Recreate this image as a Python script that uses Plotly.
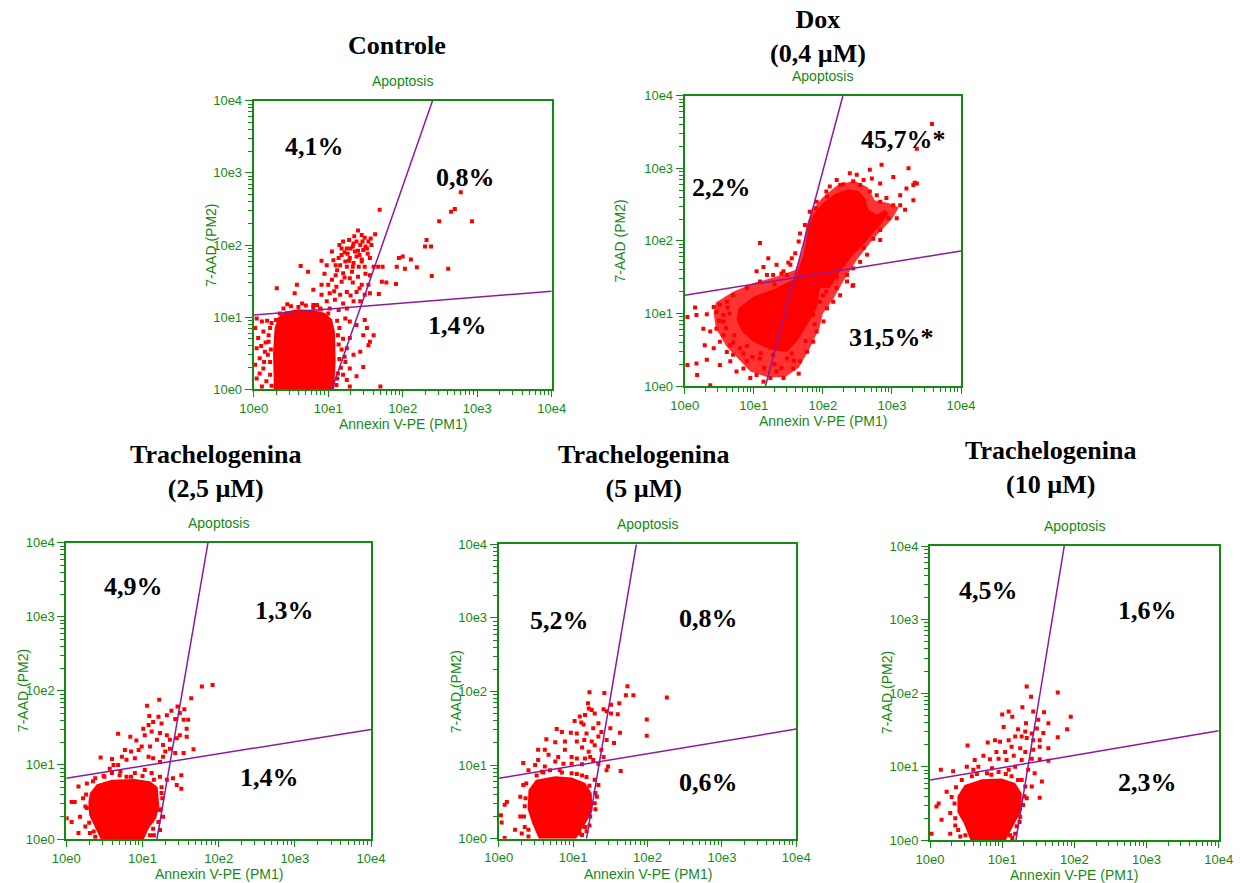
import plotly.graph_objects as go

# ------------------------------------------------------------------
# DATA  (all coordinates in decades = log10 of fluorescence intensity)
# ------------------------------------------------------------------
DECADES = [1, 10, 100, 1000, 10000]
TICK_TEXT = ["10e0", "10e1", "10e2", "10e3", "10e4"]
X_TITLE = "Annexin V-PE (PM1)"
Y_TITLE = "7-AAD (PM2)"
PLOT_TITLE = "Apoptosis"

# ---- Controle ----
ctrl_title = "Controle"
ctrl_pct = ["4,1%", "0,8%", "1,4%"]
ctrl_gate_v = [1.05, 2.40]   # x (decades) of the steep gate at y=10e0 and y=10e4
ctrl_gate_h = [1.03, 1.36]   # y (decades) of the flat gate at x=10e0 and x=10e4
ctrl_core = [(0.27, 0.0), (0.26, 0.5), (0.28, 0.85), (0.33, 1.0), (0.42, 1.08), (0.6, 1.11),
             (0.8, 1.10), (0.95, 1.06), (1.05, 0.97), (1.09, 0.8), (1.10, 0.4), (1.08, 0.0)]
ctrl_pts = [
    (1.69, 2.49), (2.65, 2.46), (2.70, 2.50), (2.49, 2.33), (2.93, 2.33), (2.32, 2.07), (2.30, 1.98),
    (2.38, 1.98), (2.00, 1.84), (1.95, 1.82), (2.11, 1.80), (1.92, 1.70), (2.19, 1.69), (2.03, 1.67),
    (2.61, 1.67), (2.39, 1.57), (1.73, 1.70), (1.72, 1.49), (1.78, 1.48), (1.91, 1.46), (1.68, 1.32),
    (3.10, 2.89), (2.78, 2.73),
    (1.40, 2.20), (1.49, 2.10), (1.57, 2.09), (1.54, 2.05), (1.43, 2.00), (1.34, 2.02), (1.28, 2.07),
    (1.20, 2.05), (1.15, 2.00), (1.25, 1.95), (1.36, 1.91), (1.47, 1.93), (1.53, 1.88), (1.58, 2.00),
    (1.63, 2.15), (1.38, 1.84), (1.29, 1.82), (1.23, 1.77), (1.14, 1.82), (1.05, 1.91), (1.07, 1.79),
    (1.16, 1.72), (1.25, 1.70), (1.34, 1.75), (1.45, 1.77), (1.49, 1.70), (1.32, 1.63), (1.20, 1.61),
    (1.12, 1.65), (0.98, 1.72), (0.91, 1.78), (0.63, 1.71), (0.73, 1.63), (0.58, 1.45), (0.31, 1.40),
    (0.80, 1.38), (0.91, 1.45), (1.05, 1.52), (1.18, 1.49), (1.29, 1.54), (1.40, 1.56), (1.11, 1.42),
    (1.02, 1.33), (1.16, 1.31), (1.25, 1.35), (1.38, 1.35), (1.49, 1.31), (0.91, 1.31), (0.98, 1.22),
    (1.09, 1.24), (1.20, 1.19), (1.34, 1.22), (1.56, 1.33), (1.54, 1.45), (1.56, 1.58), (1.61, 1.70),
    (1.67, 1.70), (0.55, 1.33), (0.80, 1.17), (0.89, 1.12), (1.02, 1.12), (1.14, 1.10), (1.25, 1.12),
    (1.43, 1.22), (1.30, 1.95), (1.42, 1.86), (1.50, 1.98), (1.38, 2.05), (1.26, 1.88), (1.45, 1.80),
    (1.33, 1.70), (1.22, 1.90), (1.10, 1.58), (1.22, 1.55), (1.33, 1.48), (1.45, 1.45), (1.00, 1.45),
    (1.08, 1.36), (1.30, 1.30), (1.42, 1.40), (1.50, 1.60), (0.95, 1.60),
    (1.18, 1.95), (1.33, 1.98), (1.46, 2.05), (1.52, 1.95), (1.40, 1.92), (1.28, 1.78), (1.41, 1.70),
    (1.18, 1.86), (1.35, 2.12), (1.45, 2.14), (1.56, 1.82), (1.10, 1.72),
    (0.04, 0.98), (0.11, 0.94), (0.02, 0.85), (0.13, 0.80), (0.06, 0.71), (0.20, 0.66), (0.04, 0.57),
    (0.15, 0.52), (0.08, 0.43), (0.02, 0.34), (0.13, 0.29), (0.04, 0.15), (0.17, 0.11), (0.11, 0.04),
    (0.22, 0.85), (0.22, 0.38), (0.22, 0.20), (0.18, 0.95), (0.10, 0.60), (0.19, 0.48), (0.08, 0.22),
    (0.20, 0.75), (0.14, 0.38), (0.24, 0.92), (0.23, 0.55), (0.24, 0.05), (0.16, 0.65),
    (0.35, 1.05), (0.40, 1.12), (0.50, 1.15), (0.60, 1.14), (0.70, 1.16), (0.80, 1.13), (0.90, 1.11),
    (1.00, 1.05), (0.30, 0.96), (0.45, 1.18), (0.65, 1.19), (0.85, 1.17),
    (1.23, 0.98), (1.29, 0.94), (1.38, 0.89), (1.49, 0.96), (1.52, 0.85), (1.47, 0.75), (1.54, 0.61),
    (1.61, 0.75), (1.29, 0.71), (1.25, 0.57), (1.34, 0.48), (1.43, 0.52), (1.23, 0.38), (1.29, 0.29),
    (1.47, 0.31), (1.38, 0.18), (1.25, 0.13), (1.29, 0.04), (1.70, 0.04), (1.20, 0.20), (1.56, 0.66),
    (1.15, 0.85), (1.20, 0.70), (1.18, 0.55), (1.17, 0.30), (1.12, 0.15), (1.22, 0.45),
    (1.12, 0.95), (1.13, 0.75), (1.14, 0.62), (1.15, 0.42), (1.13, 0.22), (1.11, 0.06),
]

# ---- Dox (0,4 µM) ----
dox_title = "Dox<br>(0,4 µM)"
dox_pct = ["2,2%", "45,7%*", "31,5%*"]
dox_gate_v = [1.17, 2.29]
dox_gate_h = [1.25, 1.86]
dox_core_low = [(0.78, 1.07), (0.99, 1.23), (1.33, 1.35), (1.60, 1.48), (1.81, 1.58), (1.96, 1.35),
                (1.91, 1.07), (1.77, 0.84), (1.62, 0.61), (1.48, 0.47), (1.24, 0.50), (0.99, 0.61),
                (0.83, 0.75), (0.75, 0.91)]
dox_core_band = [(1.60, 1.48), (1.72, 1.81), (1.79, 2.17), (1.86, 2.36), (2.01, 2.53), (2.18, 2.65),
                 (2.37, 2.71), (2.51, 2.69), (2.61, 2.59), (2.66, 2.43), (2.78, 2.36), (2.90, 2.43),
                 (2.95, 2.38), (2.83, 2.22), (2.64, 2.01), (2.44, 1.81), (2.25, 1.58), (2.10, 1.35),
                 (1.96, 1.35), (1.81, 1.58)]
dox_halo = [(0.45, 1.15), (0.70, 1.30), (1.00, 1.42), (1.30, 1.50), (1.60, 1.60), (1.70, 1.85),
            (1.76, 2.20), (1.84, 2.42), (2.00, 2.60), (2.20, 2.76), (2.45, 2.83), (2.65, 2.74),
            (2.75, 2.56), (2.95, 2.52), (3.10, 2.46), (3.00, 2.30), (2.75, 2.05), (2.50, 1.75),
            (2.30, 1.45), (2.15, 1.20), (2.00, 1.00), (1.95, 0.80), (1.80, 0.50), (1.65, 0.25),
            (1.45, 0.12), (1.20, 0.12), (0.95, 0.20), (0.80, 0.35), (0.60, 0.55), (0.45, 0.80),
            (0.42, 1.00)]
dox_pts = [
    (0.15, 1.08), (0.17, 0.98), (0.32, 0.99), (0.42, 1.09), (0.46, 1.02), (0.51, 1.12), (0.56, 0.98),
    (0.61, 1.16), (0.27, 0.79), (0.37, 0.75), (0.46, 0.79), (0.56, 0.70), (0.29, 0.56), (0.42, 0.52),
    (0.51, 0.61), (0.61, 0.47), (0.17, 0.31), (0.32, 0.36), (0.51, 0.29), (0.66, 0.34), (0.75, 0.20),
    (0.85, 0.24), (0.95, 0.11), (1.04, 0.15), (1.14, 0.06), (1.24, 0.11), (1.33, 0.20), (1.43, 0.11),
    (1.57, 0.24), (1.65, 0.17), (0.70, 0.43), (0.90, 0.34), (1.09, 0.38), (1.28, 0.43), (1.48, 0.38),
    (0.66, 0.56), (0.56, 0.89), (0.70, 1.25), (0.90, 1.35), (1.09, 1.44), (1.19, 1.53), (1.09, 1.97),
    (1.21, 1.76), (1.33, 1.67), (1.43, 1.58), (1.53, 1.67), (1.14, 1.64), (1.28, 1.53), (1.04, 1.58),
    (1.48, 1.53), (1.55, 1.76), (1.65, 1.99), (1.74, 2.22), (1.81, 2.40), (1.91, 2.54), (2.06, 2.61),
    (1.67, 2.10), (1.60, 1.83),
    (2.20, 1.35), (2.25, 1.25), (2.35, 1.44), (2.44, 1.39), (2.15, 1.16), (2.06, 1.07), (2.01, 0.89),
    (1.91, 0.75), (1.86, 0.61), (1.77, 0.47), (1.67, 0.34), (1.86, 0.98), (1.96, 1.16), (2.44, 1.62),
    (2.54, 1.71), (2.64, 1.81), (2.35, 1.53), (2.59, 1.90), (2.73, 2.03), (2.83, 2.15), (2.43, 1.38),
    (2.68, 2.68), (2.78, 2.63), (2.83, 2.54), (2.92, 2.59), (3.02, 2.49), (3.12, 2.63), (3.21, 2.72),
    (3.31, 2.77), (3.36, 2.79), (3.24, 3.00), (2.85, 3.05), (2.68, 2.98), (3.02, 2.88), (2.83, 2.79),
    (3.12, 2.49), (2.83, 2.01), (2.95, 2.31), (3.07, 2.31), (3.19, 2.43), (3.31, 2.56),
    (2.39, 2.93), (2.49, 2.91), (2.59, 2.84), (2.71, 2.86), (2.25, 2.77), (2.10, 2.75), (2.20, 2.84),
    (2.44, 2.82), (2.54, 2.77),
    (3.58, 3.61), (3.36, 3.27), (3.33, 2.80), (0.04, 0.95), (0.04, 0.29), (0.18, 0.15), (0.37, 0.01),
    (1.20, 0.90), (1.00, 0.85), (0.90, 0.55), (1.30, 0.70), (1.50, 0.60), (1.70, 0.95), (1.75, 1.20),
    (0.70, 0.60), (0.85, 0.45), (1.10, 0.45), (1.30, 0.30), (1.55, 0.45), (0.65, 1.00), (0.60, 0.80),
    (1.70, 1.30), (2.00, 1.25), (1.40, 1.55), (1.50, 1.70), (1.30, 1.40),
    (0.50, 0.90), (0.62, 1.08), (0.72, 0.70), (0.80, 0.52), (0.98, 0.40), (1.15, 0.25), (1.40, 0.25),
    (1.58, 0.35), (1.75, 0.62), (1.88, 0.85), (2.05, 1.30), (2.20, 1.50), (2.30, 1.68), (2.45, 1.92),
    (2.60, 2.10), (1.90, 2.45), (2.05, 2.68), (2.30, 2.78), (1.82, 2.05), (1.76, 1.70),
]

# ---- Trachelogenina 2,5 µM ----
t25_title = "Trachelogenina<br>(2,5 µM)"
t25_pct = ["4,9%", "1,3%", "1,4%"]
t25_gate_v = [1.19, 1.86]
t25_gate_h = [0.82, 1.48]
t25_core = [(0.31, 0.62), (0.40, 0.74), (0.60, 0.80), (0.90, 0.81), (1.10, 0.78), (1.20, 0.70),
            (1.22, 0.45), (1.18, 0.28), (1.08, 0.14), (1.02, 0.0), (0.45, 0.0), (0.38, 0.15),
            (0.30, 0.32), (0.29, 0.50)]
t25_pts = [
    (1.78, 2.06), (1.92, 2.08), (1.64, 1.90), (1.22, 1.88), (1.06, 1.80), (1.46, 1.79), (1.55, 1.75),
    (1.38, 1.73), (1.49, 1.70), (1.32, 1.67), (1.21, 1.65), (1.09, 1.66), (1.14, 1.58), (1.25, 1.56),
    (1.43, 1.62), (1.54, 1.61), (1.60, 1.61), (1.08, 1.54), (1.01, 1.49), (1.12, 1.45), (1.23, 1.43),
    (1.32, 1.40), (1.36, 1.34), (1.45, 1.36), (1.58, 1.38), (0.92, 1.33), (0.84, 1.38), (0.68, 1.42),
    (1.03, 1.40), (1.19, 1.34), (1.27, 1.27), (1.10, 1.25), (0.99, 1.25), (0.95, 1.20), (0.85, 1.18),
    (0.77, 1.20), (0.73, 1.11), (1.08, 1.11), (1.14, 1.09), (1.27, 1.11), (1.43, 1.16), (1.54, 1.16),
    (1.67, 1.21), (0.45, 1.10), (0.60, 1.08), (0.68, 1.00), (0.79, 1.07), (0.90, 1.09), (0.62, 1.00),
    (0.57, 0.95), (1.23, 1.04), (1.30, 1.18), (1.36, 1.22), (1.49, 1.40), (1.58, 1.49),
    (0.07, 0.50), (0.11, 0.50), (0.16, 0.71), (0.22, 0.55), (0.25, 0.44), (0.005, 0.28), (0.07, 0.23),
    (0.18, 0.30), (0.25, 0.17), (0.16, 0.08), (0.31, 0.08), (0.38, 0.03), (0.27, 0.75), (0.38, 0.82),
    (0.49, 0.85), (0.60, 0.89), (0.71, 0.91), (0.79, 0.84), (0.90, 0.89), (1.03, 0.93), (1.12, 0.89),
    (1.23, 0.84), (1.32, 0.80), (1.40, 0.82), (1.51, 0.86), (1.51, 0.68), (1.45, 0.73), (1.25, 0.62),
    (1.23, 0.39), (1.27, 0.30), (1.14, 0.14), (1.10, 0.05), (1.23, 0.12), (1.21, 0.23),
    (0.35, 0.78), (0.50, 0.84), (0.70, 0.86), (0.85, 0.84), (1.00, 0.85), (1.15, 0.80), (1.25, 0.70),
    (1.26, 0.55), (1.24, 0.40), (0.26, 0.60), (0.27, 0.42), (0.30, 0.22), (0.36, 0.10), (1.12, 0.25),
    (1.15, 0.05),
]

# ---- Trachelogenina 5 µM ----
t5_title = "Trachelogenina<br>(5 µM)"
t5_pct = ["5,2%", "0,8%", "0,6%"]
t5_gate_v = [1.18, 1.85]
t5_gate_h = [0.82, 1.49]
t5_core = [(0.40, 0.66), (0.50, 0.80), (0.76, 0.85), (0.98, 0.83), (1.16, 0.76), (1.25, 0.62),
           (1.26, 0.39), (1.18, 0.23), (1.04, 0.0), (0.54, 0.0), (0.45, 0.21), (0.39, 0.40)]
t5_pts = [
    (1.73, 2.07), (1.22, 1.99), (1.42, 1.98), (1.71, 1.95), (1.81, 1.95), (2.26, 1.92), (1.20, 1.84),
    (1.62, 1.84), (1.51, 1.82), (1.21, 1.77), (1.25, 1.75), (1.41, 1.76), (1.45, 1.73), (1.29, 1.70),
    (1.16, 1.68), (1.09, 1.66), (1.02, 1.60), (1.11, 1.58), (1.51, 1.70), (1.60, 1.69), (1.99, 1.62),
    (1.14, 1.55), (1.34, 1.57), (1.27, 1.50), (1.50, 1.50), (1.63, 1.44), (1.38, 1.45), (0.78, 1.49),
    (0.85, 1.45), (0.97, 1.44), (1.05, 1.43), (1.18, 1.43), (1.34, 1.39), (1.45, 1.34), (1.55, 1.30),
    (1.99, 1.40), (0.64, 1.35), (0.76, 1.31), (0.89, 1.32), (1.05, 1.32), (1.15, 1.34), (1.25, 1.32),
    (0.53, 1.21), (0.62, 1.21), (0.89, 1.21), (1.12, 1.24), (1.21, 1.18), (1.29, 1.27), (1.38, 1.21),
    (0.67, 1.14), (0.80, 1.11), (0.98, 1.11), (1.05, 1.09), (1.16, 1.09), (1.23, 1.11), (0.53, 1.07),
    (0.76, 1.05), (0.87, 1.02), (0.98, 1.02), (1.12, 1.01), (1.27, 1.07), (1.47, 0.98), (1.45, 0.93),
    (1.64, 0.92), (0.33, 1.03), (0.49, 1.00), (0.62, 0.98), (0.69, 0.93), (0.82, 0.93), (0.58, 0.91),
    (1.34, 1.02), (1.41, 1.11),
    (0.11, 0.50), (0.08, 0.46), (0.03, 0.32), (0.04, 0.22), (0.29, 0.57), (0.33, 0.73), (0.35, 0.44),
    (0.29, 0.30), (0.35, 0.16), (0.31, 0.07), (0.22, 0.12), (0.40, 0.93), (0.51, 0.86), (0.98, 0.89),
    (1.12, 0.86), (1.18, 0.84), (1.29, 0.80), (1.34, 0.73), (1.32, 0.57), (1.29, 0.48), (1.23, 0.30),
    (1.16, 0.16), (1.18, 0.10), (1.09, 0.07), (0.08, 0.01), (0.40, 0.03),
    (0.37, 0.75), (0.60, 0.90), (0.85, 0.90), (1.05, 0.88), (1.22, 0.72), (1.30, 0.62), (1.30, 0.40),
    (0.36, 0.55), (0.34, 0.30), (0.40, 0.12), (1.12, 0.05), (1.22, 0.18),
]

# ---- Trachelogenina 10 µM ----
t10_title = "Trachelogenina<br>(10 µM)"
t10_pct = ["4,5%", "1,6%", "2,3%"]
t10_gate_v = [1.19, 1.86]
t10_gate_h = [0.82, 1.49]
t10_core = [(0.38, 0.60), (0.48, 0.75), (0.72, 0.83), (0.99, 0.84), (1.18, 0.78), (1.27, 0.64),
            (1.27, 0.41), (1.18, 0.25), (1.05, 0.0), (0.56, 0.0), (0.47, 0.23), (0.38, 0.38)]
t10_pts = [
    (1.34, 2.09), (1.40, 1.95), (1.77, 2.01), (1.28, 1.81), (1.09, 1.75), (1.43, 1.75), (1.58, 1.74),
    (1.00, 1.71), (1.14, 1.68), (1.50, 1.64), (1.64, 1.59), (1.33, 1.59), (1.95, 1.68), (1.90, 1.51),
    (1.02, 1.54), (1.22, 1.51), (1.32, 1.48), (1.41, 1.45), (1.48, 1.52), (1.57, 1.46), (1.77, 1.40),
    (1.18, 1.41), (1.27, 1.41), (1.34, 1.39), (1.43, 1.36), (1.52, 1.36), (0.90, 1.36), (0.97, 1.34),
    (1.09, 1.36), (0.80, 1.33), (0.52, 1.29), (1.13, 1.27), (1.25, 1.25), (1.32, 1.20), (1.43, 1.23),
    (1.52, 1.27), (1.64, 1.25), (1.04, 1.20), (0.92, 1.20), (0.74, 1.15), (0.62, 1.09), (0.83, 1.10),
    (0.95, 1.11), (1.06, 1.09), (1.16, 1.15), (1.27, 1.09), (1.41, 1.11), (1.52, 1.10), (1.64, 1.08),
    (0.51, 1.00), (0.32, 0.94), (0.15, 0.96), (0.67, 1.00), (0.86, 0.98), (0.60, 0.96), (0.79, 0.91),
    (0.95, 0.93), (1.09, 0.96), (1.18, 1.00), (1.36, 0.96), (1.45, 0.91), (1.55, 0.80), (1.52, 0.58),
    (1.41, 0.73), (1.34, 0.57),
    (0.12, 0.50), (0.09, 0.46), (0.16, 0.28), (0.23, 0.66), (0.30, 0.59), (0.28, 0.37), (0.02, 0.09),
    (0.28, 0.09), (0.39, 0.14), (0.35, 0.30), (0.49, 0.07), (0.44, 0.82), (0.58, 0.87), (1.13, 0.87),
    (1.27, 0.82), (1.32, 0.73), (1.29, 0.48), (1.25, 0.32), (1.20, 0.19), (1.18, 0.09), (1.11, 0.07),
    (0.36, 0.72), (0.65, 0.90), (0.85, 0.89), (1.05, 0.90), (1.22, 0.82), (1.31, 0.60), (0.34, 0.50),
    (0.35, 0.20), (0.42, 0.05), (1.14, 0.03), (1.24, 0.25),
]

# ------------------------------------------------------------------
# LAYOUT / STYLE
# ------------------------------------------------------------------
W, H = 1245, 883
GREEN = "#138a13"
PURPLE = "#8c1a9e"
RED = "#ff0000"
HALO = "rgba(255,0,0,0.8)"
SANS = "Liberation Sans, Arial, sans-serif"
SERIF = "Liberation Serif, Times New Roman, serif"


def px(x):
    return x / W


def py(y):
    return 1 - y / H


def dec(v):
    return 10 ** v


panels = [
    dict(box=(253.7, 100.7, 551.7, 389.3), halos=[], cores=[ctrl_core], pts=ctrl_pts,
         gv=ctrl_gate_v, gh=ctrl_gate_h, pct=ctrl_pct, pct_pos=[(314, 147), (465, 177), (457, 326)],
         title=ctrl_title, title_pos=(397, 45)),
    dict(box=(684.7, 95.7, 961.0, 386.0), halos=[dox_halo], cores=[dox_core_low, dox_core_band], pts=dox_pts,
         gv=dox_gate_v, gh=dox_gate_h, pct=dox_pct, pct_pos=[(722, 187), (903, 140), (891, 337)],
         title=dox_title, title_pos=(818, 37)),
    dict(box=(66.3, 542.7, 371.0, 839.0), halos=[], cores=[t25_core], pts=t25_pts, gv=t25_gate_v,
         gh=t25_gate_h, pct=t25_pct, pct_pos=[(133, 586), (284.5, 610), (269, 777)], title=t25_title,
         title_pos=(215, 471)),
    dict(box=(498.7, 544.3, 796.3, 838.7), halos=[], cores=[t5_core], pts=t5_pts, gv=t5_gate_v,
         gh=t5_gate_h, pct=t5_pct, pct_pos=[(559, 620), (708, 618), (708, 782)], title=t5_title,
         title_pos=(643, 471)),
    dict(box=(930.0, 546.0, 1218.7, 840.3), halos=[], cores=[t10_core], pts=t10_pts, gv=t10_gate_v,
         gh=t10_gate_h, pct=t10_pct, pct_pos=[(988, 590), (1147, 610), (1147, 782)], title=t10_title,
         title_pos=(1050, 467)),
]

minor_vals = [m * 10 ** d for d in range(4) for m in range(2, 10)]

fig = go.Figure()
layout = dict(width=W, height=H, autosize=False,
              margin=dict(l=0, r=0, t=0, b=0, pad=0, autoexpand=False),
              paper_bgcolor="white", plot_bgcolor="white", showlegend=False, annotations=[])


def polygon(poly, color, xa, ya):
    return go.Scatter(x=[dec(a) for a, b in poly] + [dec(poly[0][0])],
                      y=[dec(b) for a, b in poly] + [dec(poly[0][1])],
                      mode="lines", fill="toself", fillcolor=color, line=dict(width=0, color=color),
                      xaxis=xa, yaxis=ya, hoverinfo="skip")


for i, p in enumerate(panels, 1):
    sfx = "" if i == 1 else str(i)
    xa, ya = "x" + sfx, "y" + sfx
    x0, y0, x1, y1 = p["box"]
    common = dict(type="log", range=[0, 4], tickmode="array", tickvals=DECADES, ticktext=TICK_TEXT,
                  ticks="outside", ticklen=6, tickwidth=1, tickcolor=GREEN, showline=True,
                  linecolor=GREEN, linewidth=2, mirror=True, showgrid=False, zeroline=False,
                  automargin=False, tickfont=dict(family=SANS, size=13, color=GREEN), fixedrange=True,
                  minor=dict(tickmode="array", tickvals=minor_vals, ticks="outside", ticklen=4,
                             tickwidth=1, tickcolor=GREEN, showgrid=False))
    layout["xaxis" + sfx] = dict(common, domain=[px(x0), px(x1)], anchor=ya)
    layout["yaxis" + sfx] = dict(common, domain=[py(y1), py(y0)], anchor=xa, ticklen=7)

    for halo in p["halos"]:
        fig.add_trace(polygon(halo, HALO, xa, ya))
    for core in p["cores"]:
        fig.add_trace(polygon(core, RED, xa, ya))
    fig.add_trace(go.Scatter(x=[dec(a) for a, b in p["pts"]], y=[dec(b) for a, b in p["pts"]],
                             mode="markers", marker=dict(symbol="square", size=4, color=RED, line=dict(width=0)),
                             xaxis=xa, yaxis=ya, hoverinfo="skip"))
    # gates
    fig.add_trace(go.Scatter(x=[dec(p["gv"][0]), dec(p["gv"][1])], y=[1, 10000], mode="lines",
                             line=dict(color=PURPLE, width=1.5), xaxis=xa, yaxis=ya, hoverinfo="skip"))
    fig.add_trace(go.Scatter(x=[1, 10000], y=[dec(p["gh"][0]), dec(p["gh"][1])], mode="lines",
                             line=dict(color=PURPLE, width=1.5), xaxis=xa, yaxis=ya, hoverinfo="skip"))

    cx = (x0 + x1) / 2
    cy = (y0 + y1) / 2
    ann = layout["annotations"]
    ann.append(dict(text=PLOT_TITLE, x=px(cx), y=py(y0 - 20), xref="paper", yref="paper", showarrow=False,
                    xanchor="center", yanchor="middle", font=dict(family=SANS, size=14, color=GREEN)))
    ann.append(dict(text=X_TITLE, x=px(cx), y=py(y1 + 35), xref="paper", yref="paper", showarrow=False,
                    xanchor="center", yanchor="middle", font=dict(family=SANS, size=14, color=GREEN)))
    ytx = x0 - (65 if i == 2 else 43)
    ann.append(dict(text=Y_TITLE, x=px(ytx), y=py(cy), xref="paper", yref="paper", showarrow=False,
                    textangle=-90, xanchor="center", yanchor="middle",
                    font=dict(family=SANS, size=14, color=GREEN)))
    tx, ty = p["title_pos"]
    ann.append(dict(text="<b>" + p["title"].replace("<br>", "</b><br><b>") + "</b>", x=px(tx), y=py(ty),
                    xref="paper", yref="paper", showarrow=False, xanchor="center", yanchor="middle",
                    font=dict(family=SERIF, size=26, color="black")))
    for label, (lx, ly) in zip(p["pct"], p["pct_pos"]):
        ann.append(dict(text="<b>" + label + "</b>", x=px(lx), y=py(ly), xref="paper", yref="paper",
                        showarrow=False, xanchor="center", yanchor="middle",
                        font=dict(family=SERIF, size=26, color="black")))

fig.update_layout(**layout)
# remove the browser's default 8px page margin so the figure fills the window exactly
fig.write_html("out.html", config={"displayModeBar": False},
               post_script="document.body.style.margin='0px';")
